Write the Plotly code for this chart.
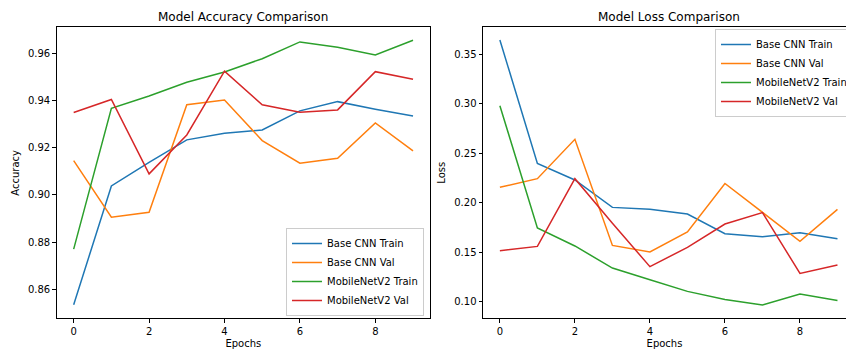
import plotly.graph_objects as go

epochs = list(range(10))
series_names = ["Base CNN Train", "Base CNN Val", "MobileNetV2 Train", "MobileNetV2 Val"]
colors = ["#1f77b4", "#ff7f0e", "#2ca02c", "#d62728"]

acc_base_train = [0.8534, 0.9038, 0.9138, 0.9233, 0.9261, 0.9275, 0.9356, 0.9395, 0.9363, 0.9334]
acc_base_val = [0.9145, 0.8905, 0.8926, 0.9382, 0.9402, 0.9230, 0.9134, 0.9155, 0.9305, 0.9186]
acc_mob_train = [0.8770, 0.9367, 0.9419, 0.9477, 0.9521, 0.9577, 0.9648, 0.9625, 0.9593, 0.9655]
acc_mob_val = [0.9349, 0.9404, 0.9089, 0.9254, 0.9524, 0.9382, 0.9350, 0.9360, 0.9522, 0.9490]

loss_base_train = [0.3645, 0.2398, 0.2230, 0.1953, 0.1933, 0.1886, 0.1687, 0.1657, 0.1697, 0.1637]
loss_base_val = [0.2156, 0.2243, 0.2641, 0.1569, 0.1502, 0.1704, 0.2195, 0.1903, 0.1610, 0.1933]
loss_mob_train = [0.2981, 0.1745, 0.1563, 0.1340, 0.1222, 0.1104, 0.1023, 0.0966, 0.1077, 0.1013]
loss_mob_val = [0.1515, 0.1559, 0.2243, 0.1792, 0.1354, 0.1549, 0.1785, 0.1900, 0.1286, 0.1370]

acc_series = [acc_base_train, acc_base_val, acc_mob_train, acc_mob_val]
loss_series = [loss_base_train, loss_base_val, loss_mob_train, loss_mob_val]

W, H = 846, 349
fig = go.Figure()

for name, col, ys in zip(series_names, colors, acc_series):
    fig.add_trace(go.Scatter(x=epochs, y=ys, mode="lines", name=name,
                             line=dict(color=col, width=1.5),
                             xaxis="x", yaxis="y", legend="legend"))
for name, col, ys in zip(series_names, colors, loss_series):
    fig.add_trace(go.Scatter(x=epochs, y=ys, mode="lines", name=name,
                             line=dict(color=col, width=1.5),
                             xaxis="x2", yaxis="y2", legend="legend2"))

font = dict(family="DejaVu Sans", size=10, color="black")
ydom = [30.7 / H, 321.7 / H]

axis_common = dict(showline=True, linecolor="black", linewidth=1, mirror=True,
                   ticks="outside", ticklen=3.5, tickwidth=1, tickcolor="black",
                   showgrid=False, zeroline=False, tickfont=font)

fig.update_layout(
    width=W, height=H,
    margin=dict(l=0, r=0, t=0, b=0, autoexpand=False),
    paper_bgcolor="white", plot_bgcolor="white",
    font=font,
    xaxis=dict(domain=[56.7 / W, 430 / W], range=[-0.45, 9.45], tickvals=[0, 2, 4, 6, 8],
               anchor="y", title=dict(text="Epochs", font=font, standoff=4), **axis_common),
    yaxis=dict(domain=ydom, range=[0.8477, 0.971], tickvals=[0.86, 0.88, 0.90, 0.92, 0.94, 0.96],
               tickformat=".2f", anchor="x",
               title=dict(text="Accuracy", font=font, standoff=6), **axis_common),
    xaxis2=dict(domain=[483 / W, 1.0], range=[-0.45, 9.227], tickvals=[0, 2, 4, 6, 8],
                anchor="y2", title=dict(text="Epochs", font=font, standoff=4), **axis_common),
    yaxis2=dict(domain=ydom, range=[0.0832, 0.3773], tickvals=[0.10, 0.15, 0.20, 0.25, 0.30, 0.35],
                tickformat=".2f", anchor="x2",
                title=dict(text="Loss", font=font, standoff=6), **axis_common),
    legend=dict(x=424 / W, y=(H - 316) / H, xanchor="right", yanchor="bottom",
                bgcolor="rgba(255,255,255,0.8)", bordercolor="#cccccc", borderwidth=1,
                font=font),
    legend2=dict(x=715 / W, y=(H - 29) / H, xanchor="left", yanchor="top",
                 bgcolor="rgba(255,255,255,0.8)", bordercolor="#cccccc", borderwidth=1,
                 font=font),
    annotations=[
        dict(text="Model Accuracy Comparison", x=(56.7 + 430) / 2 / W, y=ydom[1],
             xref="paper", yref="paper", xanchor="center", yanchor="bottom",
             yshift=1, showarrow=False, font=dict(family="DejaVu Sans", size=12, color="black")),
        dict(text="Model Loss Comparison", x=(483 + 854) / 2 / W, y=ydom[1],
             xref="paper", yref="paper", xanchor="center", yanchor="bottom",
             yshift=1, showarrow=False, font=dict(family="DejaVu Sans", size=12, color="black")),
    ],
)

fig.write_html("out.html", config={"displayModeBar": False},
               post_script="document.body.style.margin='0px';document.body.style.overflow='hidden';")
